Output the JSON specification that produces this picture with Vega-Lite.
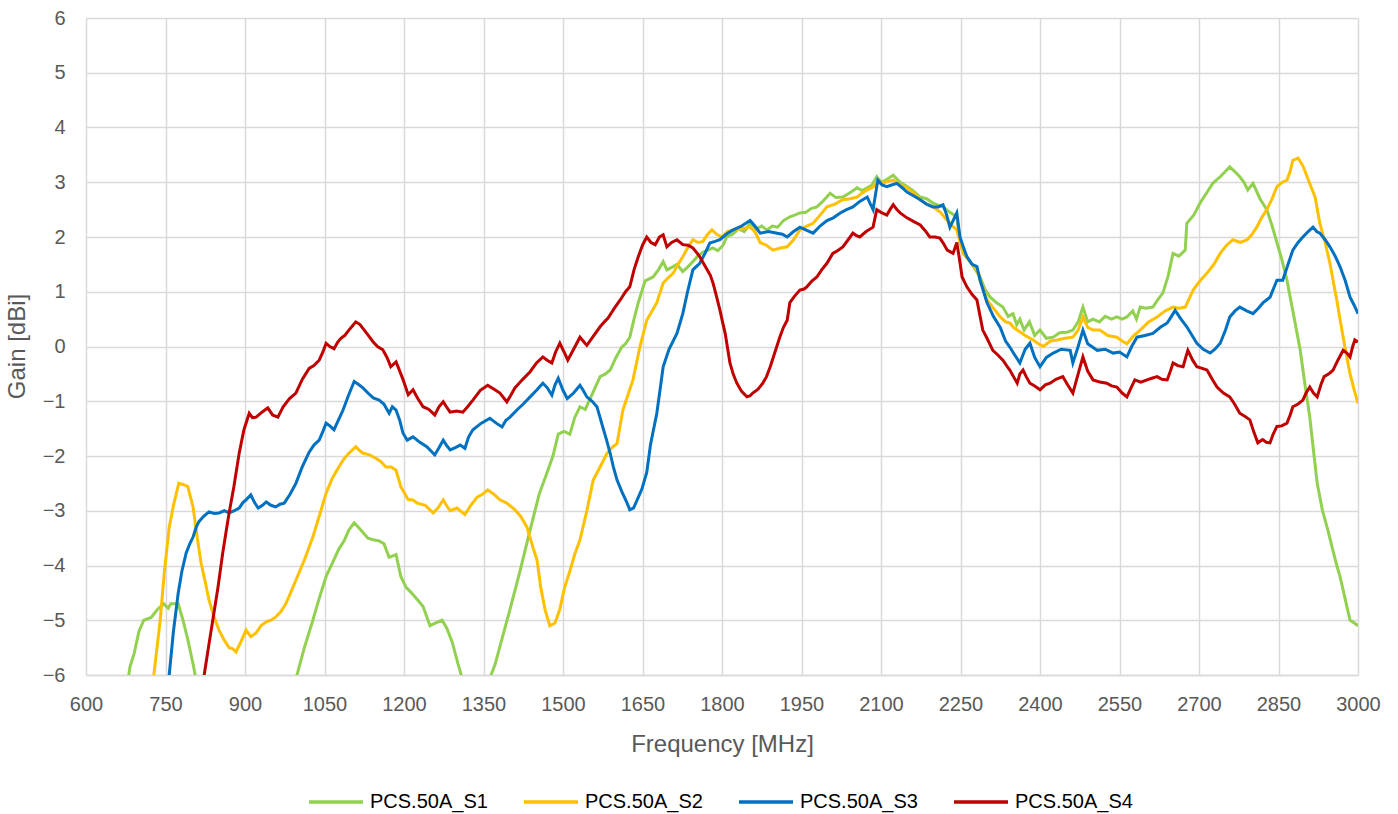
{
  "$schema": "https://vega.github.io/schema/vega-lite/v6.json",
  "width": 1272,
  "height": 657,
  "autosize": {"type": "none"},
  "padding": {"left": 86, "top": 18, "right": 40, "bottom": 139},
  "background": "white",
  "config": {
    "view": {"stroke": null},
    "font": "Liberation Sans, sans-serif",
    "axis": {
      "labelFont": "Liberation Sans, sans-serif",
      "titleFont": "Liberation Sans, sans-serif",
      "labelFontSize": 20,
      "labelColor": "#595959",
      "titleFontSize": 24,
      "titleColor": "#595959",
      "titleFontWeight": "normal",
      "gridColor": "#d9d9d9",
      "gridWidth": 1.5,
      "ticks": false,
      "tickSize": 0
    },
    "legend": {
      "labelFont": "Liberation Sans, sans-serif"
    }
  },
  "datasets": {
    "S1": [
      {"f":676,"g":-6.3},{"f":683,"g":-5.85},{"f":691,"g":-5.6},{"f":700,"g":-5.2},{"f":709,"g":-5.0},{"f":723,"g":-4.95},{"f":735,"g":-4.8},{"f":747,"g":-4.7},{"f":755,"g":-4.78},{"f":760,"g":-4.7},{"f":774,"g":-4.7},{"f":783,"g":-5.0},{"f":792,"g":-5.35},{"f":802,"g":-5.8},{"f":812,"g":-6.3},
      {"f":990,"g":-6.3},{"f":998,"g":-6.0},{"f":1012,"g":-5.5},{"f":1028,"g":-5.0},{"f":1040,"g":-4.6},{"f":1053,"g":-4.2},{"f":1065,"g":-3.95},{"f":1077,"g":-3.7},{"f":1087,"g":-3.55},{"f":1096,"g":-3.35},{"f":1106,"g":-3.22},{"f":1114,"g":-3.3},{"f":1123,"g":-3.4},{"f":1132,"g":-3.5},{"f":1142,"g":-3.53},{"f":1153,"g":-3.55},{"f":1162,"g":-3.6},{"f":1172,"g":-3.85},{"f":1185,"g":-3.8},{"f":1194,"g":-4.2},{"f":1204,"g":-4.4},{"f":1214,"g":-4.5},{"f":1223,"g":-4.6},{"f":1236,"g":-4.75},{"f":1249,"g":-5.1},{"f":1260,"g":-5.05},{"f":1272,"g":-5.0},{"f":1281,"g":-5.15},{"f":1291,"g":-5.4},{"f":1302,"g":-5.8},{"f":1317,"g":-6.3},
      {"f":1353,"g":-6.3},{"f":1372,"g":-5.8},{"f":1386,"g":-5.3},{"f":1400,"g":-4.8},{"f":1419,"g":-4.1},{"f":1438,"g":-3.35},{"f":1455,"g":-2.7},{"f":1470,"g":-2.3},{"f":1481,"g":-2.0},{"f":1491,"g":-1.6},{"f":1502,"g":-1.55},{"f":1513,"g":-1.6},{"f":1522,"g":-1.3},{"f":1532,"g":-1.1},{"f":1542,"g":-1.15},{"f":1556,"g":-0.85},{"f":1570,"g":-0.55},{"f":1580,"g":-0.5},{"f":1589,"g":-0.43},{"f":1600,"g":-0.2},{"f":1611,"g":-0.01},{"f":1618,"g":0.05},{"f":1626,"g":0.17},{"f":1634,"g":0.5},{"f":1642,"g":0.8},{"f":1655,"g":1.2},{"f":1670,"g":1.27},{"f":1680,"g":1.4},{"f":1689,"g":1.55},{"f":1696,"g":1.4},{"f":1706,"g":1.45},{"f":1715,"g":1.5},{"f":1726,"g":1.37},{"f":1735,"g":1.45},{"f":1745,"g":1.55},{"f":1754,"g":1.65},{"f":1764,"g":1.72},{"f":1773,"g":1.76},{"f":1783,"g":1.8},{"f":1792,"g":1.75},{"f":1802,"g":1.85},{"f":1809,"g":2.0},{"f":1820,"g":2.05},{"f":1831,"g":2.15},{"f":1842,"g":2.1},{"f":1853,"g":2.25},{"f":1865,"g":2.15},{"f":1875,"g":2.2},{"f":1885,"g":2.13},{"f":1895,"g":2.2},{"f":1905,"g":2.18},{"f":1916,"g":2.3},{"f":1928,"g":2.37},{"f":1937,"g":2.4},{"f":1947,"g":2.44},{"f":1958,"g":2.45},{"f":1968,"g":2.52},{"f":1979,"g":2.55},{"f":1990,"g":2.65},{"f":2004,"g":2.8},{"f":2015,"g":2.72},{"f":2028,"g":2.73},{"f":2040,"g":2.8},{"f":2055,"g":2.9},{"f":2064,"g":2.85},{"f":2074,"g":2.9},{"f":2083,"g":2.95},{"f":2092,"g":3.1},{"f":2100,"g":3.0},{"f":2111,"g":3.05},{"f":2123,"g":3.13},{"f":2136,"g":3.0},{"f":2149,"g":2.92},{"f":2160,"g":2.85},{"f":2174,"g":2.73},{"f":2186,"g":2.7},{"f":2198,"g":2.62},{"f":2208,"g":2.58},{"f":2217,"g":2.55},{"f":2230,"g":2.45},{"f":2243,"g":2.37},{"f":2249,"g":1.9},{"f":2262,"g":1.64},{"f":2275,"g":1.45},{"f":2287,"g":1.27},{"f":2296,"g":1.05},{"f":2306,"g":0.9},{"f":2318,"g":0.8},{"f":2330,"g":0.72},{"f":2340,"g":0.55},{"f":2349,"g":0.6},{"f":2356,"g":0.4},{"f":2362,"g":0.5},{"f":2370,"g":0.3},{"f":2380,"g":0.45},{"f":2390,"g":0.2},{"f":2400,"g":0.3},{"f":2412,"g":0.15},{"f":2425,"g":0.17},{"f":2437,"g":0.25},{"f":2451,"g":0.26},{"f":2462,"g":0.3},{"f":2472,"g":0.45},{"f":2481,"g":0.72},{"f":2490,"g":0.45},{"f":2500,"g":0.5},{"f":2512,"g":0.45},{"f":2523,"g":0.55},{"f":2535,"g":0.5},{"f":2545,"g":0.54},{"f":2555,"g":0.5},{"f":2564,"g":0.54},{"f":2575,"g":0.65},{"f":2582,"g":0.5},{"f":2589,"g":0.72},{"f":2600,"g":0.7},{"f":2613,"g":0.72},{"f":2622,"g":0.85},{"f":2632,"g":0.98},{"f":2642,"g":1.3},{"f":2651,"g":1.7},{"f":2662,"g":1.65},{"f":2674,"g":1.76},{"f":2677,"g":2.25},{"f":2690,"g":2.4},{"f":2702,"g":2.62},{"f":2714,"g":2.8},{"f":2726,"g":2.98},{"f":2740,"g":3.1},{"f":2750,"g":3.2},{"f":2758,"g":3.28},{"f":2767,"g":3.2},{"f":2777,"g":3.1},{"f":2785,"g":3.0},{"f":2792,"g":2.86},{"f":2802,"g":2.98},{"f":2815,"g":2.7},{"f":2828,"g":2.5},{"f":2838,"g":2.2},{"f":2847,"g":1.9},{"f":2856,"g":1.6},{"f":2866,"g":1.21},{"f":2878,"g":0.6},{"f":2891,"g":-0.07},{"f":2900,"g":-0.7},{"f":2909,"g":-1.29},{"f":2916,"g":-1.9},{"f":2923,"g":-2.5},{"f":2933,"g":-3.0},{"f":2943,"g":-3.35},{"f":2952,"g":-3.7},{"f":2960,"g":-4.0},{"f":2966,"g":-4.2},{"f":2972,"g":-4.45},{"f":2979,"g":-4.75},{"f":2985,"g":-5.0},{"f":2993,"g":-5.05},{"f":3000,"g":-5.1}
    ],
    "S2": [
      {"f":723,"g":-6.4},{"f":728,"g":-6.0},{"f":734,"g":-5.5},{"f":740,"g":-5.0},{"f":748,"g":-4.1},{"f":757,"g":-3.3},{"f":765,"g":-2.9},{"f":775,"g":-2.5},{"f":783,"g":-2.52},{"f":792,"g":-2.56},{"f":802,"g":-2.93},{"f":810,"g":-3.5},{"f":817,"g":-3.95},{"f":825,"g":-4.3},{"f":832,"g":-4.63},{"f":842,"g":-4.95},{"f":851,"g":-5.18},{"f":860,"g":-5.35},{"f":870,"g":-5.5},{"f":877,"g":-5.52},{"f":883,"g":-5.58},{"f":892,"g":-5.4},{"f":902,"g":-5.18},{"f":911,"g":-5.3},{"f":921,"g":-5.23},{"f":930,"g":-5.1},{"f":940,"g":-5.03},{"f":949,"g":-5.0},{"f":958,"g":-4.94},{"f":967,"g":-4.85},{"f":977,"g":-4.7},{"f":986,"g":-4.5},{"f":996,"g":-4.27},{"f":1012,"g":-3.9},{"f":1028,"g":-3.48},{"f":1040,"g":-3.1},{"f":1053,"g":-2.68},{"f":1065,"g":-2.4},{"f":1077,"g":-2.2},{"f":1087,"g":-2.05},{"f":1096,"g":-1.95},{"f":1109,"g":-1.83},{"f":1116,"g":-1.9},{"f":1123,"g":-1.95},{"f":1135,"g":-1.98},{"f":1147,"g":-2.04},{"f":1156,"g":-2.1},{"f":1166,"g":-2.2},{"f":1176,"g":-2.2},{"f":1185,"g":-2.26},{"f":1194,"g":-2.56},{"f":1208,"g":-2.8},{"f":1216,"g":-2.8},{"f":1225,"g":-2.86},{"f":1240,"g":-2.9},{"f":1255,"g":-3.04},{"f":1264,"g":-2.95},{"f":1274,"g":-2.8},{"f":1280,"g":-2.9},{"f":1287,"g":-3.0},{"f":1300,"g":-2.95},{"f":1315,"g":-3.07},{"f":1326,"g":-2.9},{"f":1338,"g":-2.75},{"f":1348,"g":-2.7},{"f":1358,"g":-2.62},{"f":1370,"g":-2.7},{"f":1381,"g":-2.8},{"f":1394,"g":-2.86},{"f":1409,"g":-2.98},{"f":1420,"g":-3.1},{"f":1432,"g":-3.3},{"f":1443,"g":-3.66},{"f":1451,"g":-3.9},{"f":1458,"g":-4.4},{"f":1466,"g":-4.8},{"f":1475,"g":-5.1},{"f":1485,"g":-5.05},{"f":1494,"g":-4.8},{"f":1503,"g":-4.4},{"f":1513,"g":-4.1},{"f":1522,"g":-3.8},{"f":1532,"g":-3.53},{"f":1545,"g":-3.0},{"f":1557,"g":-2.44},{"f":1570,"g":-2.2},{"f":1583,"g":-1.95},{"f":1592,"g":-1.85},{"f":1602,"g":-1.77},{"f":1613,"g":-1.16},{"f":1622,"g":-0.9},{"f":1632,"g":-0.61},{"f":1645,"g":-0.01},{"f":1658,"g":0.48},{"f":1668,"g":0.65},{"f":1677,"g":0.8},{"f":1689,"g":1.16},{"f":1698,"g":1.25},{"f":1708,"g":1.34},{"f":1717,"g":1.5},{"f":1726,"g":1.64},{"f":1735,"g":1.8},{"f":1745,"g":1.95},{"f":1755,"g":1.9},{"f":1764,"g":1.92},{"f":1773,"g":2.05},{"f":1781,"g":2.13},{"f":1790,"g":2.05},{"f":1800,"g":2.0},{"f":1810,"g":2.1},{"f":1821,"g":2.13},{"f":1837,"g":2.15},{"f":1853,"g":2.18},{"f":1862,"g":2.1},{"f":1872,"g":1.9},{"f":1884,"g":1.85},{"f":1896,"g":1.76},{"f":1910,"g":1.8},{"f":1923,"g":1.82},{"f":1935,"g":1.95},{"f":1947,"g":2.13},{"f":1960,"g":2.2},{"f":1972,"g":2.25},{"f":1985,"g":2.4},{"f":1998,"g":2.55},{"f":2013,"g":2.6},{"f":2028,"g":2.68},{"f":2042,"g":2.7},{"f":2055,"g":2.73},{"f":2064,"g":2.8},{"f":2074,"g":2.86},{"f":2083,"g":2.9},{"f":2092,"g":2.98},{"f":2108,"g":3.0},{"f":2123,"g":3.04},{"f":2136,"g":2.95},{"f":2149,"g":2.9},{"f":2162,"g":2.8},{"f":2174,"g":2.68},{"f":2186,"g":2.6},{"f":2198,"g":2.55},{"f":2212,"g":2.45},{"f":2225,"g":2.3},{"f":2235,"g":2.2},{"f":2243,"g":2.13},{"f":2255,"g":1.7},{"f":2268,"g":1.55},{"f":2281,"g":1.4},{"f":2291,"g":1.1},{"f":2300,"g":0.85},{"f":2312,"g":0.7},{"f":2325,"g":0.54},{"f":2335,"g":0.45},{"f":2343,"g":0.43},{"f":2350,"g":0.35},{"f":2357,"g":0.3},{"f":2372,"g":0.2},{"f":2387,"g":0.12},{"f":2397,"g":0.05},{"f":2406,"g":0.0},{"f":2420,"g":0.1},{"f":2432,"g":0.12},{"f":2447,"g":0.15},{"f":2462,"g":0.17},{"f":2472,"g":0.3},{"f":2481,"g":0.54},{"f":2490,"g":0.35},{"f":2500,"g":0.3},{"f":2513,"g":0.3},{"f":2528,"g":0.2},{"f":2545,"g":0.17},{"f":2555,"g":0.1},{"f":2564,"g":0.05},{"f":2577,"g":0.2},{"f":2589,"g":0.3},{"f":2605,"g":0.45},{"f":2621,"g":0.54},{"f":2636,"g":0.65},{"f":2651,"g":0.72},{"f":2662,"g":0.7},{"f":2674,"g":0.72},{"f":2689,"g":1.03},{"f":2702,"g":1.2},{"f":2715,"g":1.34},{"f":2728,"g":1.5},{"f":2740,"g":1.7},{"f":2752,"g":1.85},{"f":2764,"g":1.95},{"f":2778,"g":1.9},{"f":2791,"g":1.95},{"f":2800,"g":2.05},{"f":2809,"g":2.18},{"f":2818,"g":2.35},{"f":2828,"g":2.5},{"f":2838,"g":2.7},{"f":2847,"g":2.92},{"f":2857,"g":3.0},{"f":2866,"g":3.04},{"f":2872,"g":3.2},{"f":2877,"g":3.4},{"f":2887,"g":3.44},{"f":2896,"g":3.3},{"f":2904,"g":3.1},{"f":2912,"g":2.9},{"f":2919,"g":2.73},{"f":2928,"g":2.25},{"f":2938,"g":1.9},{"f":2947,"g":1.52},{"f":2955,"g":1.1},{"f":2960,"g":0.85},{"f":2966,"g":0.5},{"f":2972,"g":0.17},{"f":2978,"g":-0.15},{"f":2985,"g":-0.5},{"f":2993,"g":-0.8},{"f":3000,"g":-1.04}
    ],
    "S3": [
      {"f":753,"g":-6.4},{"f":757,"g":-6.0},{"f":765,"g":-5.2},{"f":774,"g":-4.5},{"f":781,"g":-4.1},{"f":789,"g":-3.77},{"f":796,"g":-3.6},{"f":802,"g":-3.48},{"f":808,"g":-3.3},{"f":813,"g":-3.2},{"f":822,"g":-3.1},{"f":832,"g":-3.02},{"f":842,"g":-3.05},{"f":851,"g":-3.04},{"f":861,"g":-3.0},{"f":870,"g":-3.04},{"f":880,"g":-3.0},{"f":889,"g":-2.95},{"f":896,"g":-2.85},{"f":902,"g":-2.8},{"f":911,"g":-2.71},{"f":918,"g":-2.85},{"f":925,"g":-2.95},{"f":933,"g":-2.9},{"f":940,"g":-2.84},{"f":949,"g":-2.9},{"f":958,"g":-2.93},{"f":966,"g":-2.88},{"f":974,"g":-2.86},{"f":985,"g":-2.7},{"f":996,"g":-2.5},{"f":1008,"g":-2.2},{"f":1021,"g":-1.93},{"f":1030,"g":-1.8},{"f":1040,"g":-1.71},{"f":1047,"g":-1.55},{"f":1053,"g":-1.4},{"f":1060,"g":-1.45},{"f":1068,"g":-1.52},{"f":1076,"g":-1.35},{"f":1085,"g":-1.16},{"f":1095,"g":-0.9},{"f":1106,"g":-0.64},{"f":1115,"g":-0.7},{"f":1123,"g":-0.76},{"f":1132,"g":-0.85},{"f":1142,"g":-0.94},{"f":1153,"g":-0.98},{"f":1162,"g":-1.05},{"f":1172,"g":-1.22},{"f":1178,"g":-1.1},{"f":1185,"g":-1.16},{"f":1192,"g":-1.35},{"f":1198,"g":-1.58},{"f":1206,"g":-1.71},{"f":1217,"g":-1.65},{"f":1230,"g":-1.75},{"f":1243,"g":-1.83},{"f":1250,"g":-1.9},{"f":1258,"g":-1.98},{"f":1266,"g":-1.85},{"f":1274,"g":-1.71},{"f":1280,"g":-1.8},{"f":1287,"g":-1.89},{"f":1296,"g":-1.85},{"f":1306,"g":-1.8},{"f":1315,"g":-1.86},{"f":1322,"g":-1.65},{"f":1330,"g":-1.52},{"f":1346,"g":-1.4},{"f":1362,"g":-1.31},{"f":1374,"g":-1.4},{"f":1385,"g":-1.47},{"f":1392,"g":-1.35},{"f":1400,"g":-1.29},{"f":1413,"g":-1.16},{"f":1425,"g":-1.05},{"f":1438,"g":-0.92},{"f":1450,"g":-0.8},{"f":1462,"g":-0.67},{"f":1470,"g":-0.75},{"f":1479,"g":-0.89},{"f":1485,"g":-0.7},{"f":1491,"g":-0.58},{"f":1500,"g":-0.8},{"f":1508,"g":-0.95},{"f":1520,"g":-0.85},{"f":1532,"g":-0.71},{"f":1538,"g":-0.8},{"f":1545,"g":-0.92},{"f":1555,"g":-1.0},{"f":1564,"g":-1.1},{"f":1570,"g":-1.3},{"f":1575,"g":-1.47},{"f":1582,"g":-1.7},{"f":1589,"g":-1.95},{"f":1595,"g":-2.2},{"f":1602,"g":-2.44},{"f":1611,"g":-2.65},{"f":1621,"g":-2.86},{"f":1626,"g":-2.98},{"f":1633,"g":-2.95},{"f":1640,"g":-2.8},{"f":1649,"g":-2.6},{"f":1658,"g":-2.3},{"f":1665,"g":-1.8},{"f":1677,"g":-1.22},{"f":1683,"g":-0.8},{"f":1689,"g":-0.37},{"f":1700,"g":-0.05},{"f":1715,"g":0.24},{"f":1726,"g":0.6},{"f":1735,"g":1.0},{"f":1745,"g":1.4},{"f":1758,"g":1.52},{"f":1768,"g":1.7},{"f":1777,"g":1.89},{"f":1787,"g":1.92},{"f":1796,"g":1.95},{"f":1808,"g":2.05},{"f":1821,"g":2.13},{"f":1837,"g":2.2},{"f":1853,"g":2.3},{"f":1862,"g":2.2},{"f":1872,"g":2.07},{"f":1888,"g":2.1},{"f":1904,"g":2.07},{"f":1914,"g":2.05},{"f":1923,"g":2.0},{"f":1935,"g":2.1},{"f":1947,"g":2.18},{"f":1960,"g":2.12},{"f":1972,"g":2.07},{"f":1985,"g":2.2},{"f":1998,"g":2.3},{"f":2010,"g":2.35},{"f":2023,"g":2.44},{"f":2035,"g":2.5},{"f":2047,"g":2.55},{"f":2060,"g":2.65},{"f":2074,"g":2.73},{"f":2080,"g":2.6},{"f":2085,"g":2.5},{"f":2094,"g":3.04},{"f":2102,"g":2.95},{"f":2111,"g":2.92},{"f":2120,"g":2.95},{"f":2130,"g":2.98},{"f":2140,"g":2.9},{"f":2149,"g":2.82},{"f":2162,"g":2.75},{"f":2174,"g":2.68},{"f":2186,"g":2.6},{"f":2198,"g":2.55},{"f":2208,"g":2.55},{"f":2217,"g":2.59},{"f":2224,"g":2.4},{"f":2230,"g":2.18},{"f":2236,"g":2.3},{"f":2243,"g":2.44},{"f":2249,"g":2.0},{"f":2256,"g":1.8},{"f":2262,"g":1.64},{"f":2272,"g":1.5},{"f":2281,"g":1.46},{"f":2287,"g":1.21},{"f":2300,"g":0.8},{"f":2312,"g":0.55},{"f":2325,"g":0.35},{"f":2335,"g":0.1},{"f":2343,"g":-0.01},{"f":2352,"g":-0.15},{"f":2362,"g":-0.3},{"f":2372,"g":-0.05},{"f":2381,"g":0.06},{"f":2390,"g":-0.2},{"f":2400,"g":-0.37},{"f":2412,"g":-0.2},{"f":2425,"g":-0.12},{"f":2440,"g":-0.05},{"f":2457,"g":-0.07},{"f":2462,"g":-0.3},{"f":2472,"g":0.0},{"f":2481,"g":0.3},{"f":2490,"g":0.05},{"f":2508,"g":-0.07},{"f":2523,"g":-0.05},{"f":2538,"g":-0.12},{"f":2550,"g":-0.1},{"f":2564,"g":-0.19},{"f":2573,"g":0.0},{"f":2583,"g":0.17},{"f":2598,"g":0.2},{"f":2613,"g":0.24},{"f":2627,"g":0.35},{"f":2640,"g":0.43},{"f":2648,"g":0.55},{"f":2655,"g":0.66},{"f":2666,"g":0.5},{"f":2677,"g":0.36},{"f":2687,"g":0.2},{"f":2696,"g":0.06},{"f":2708,"g":-0.05},{"f":2721,"g":-0.12},{"f":2730,"g":-0.05},{"f":2740,"g":0.06},{"f":2750,"g":0.3},{"f":2758,"g":0.54},{"f":2768,"g":0.65},{"f":2777,"g":0.72},{"f":2790,"g":0.65},{"f":2802,"g":0.6},{"f":2812,"g":0.7},{"f":2821,"g":0.8},{"f":2834,"g":0.9},{"f":2847,"g":1.21},{"f":2858,"g":1.21},{"f":2868,"g":1.5},{"f":2877,"g":1.76},{"f":2887,"g":1.9},{"f":2896,"g":2.0},{"f":2906,"g":2.1},{"f":2915,"g":2.18},{"f":2922,"g":2.1},{"f":2928,"g":2.07},{"f":2938,"g":1.95},{"f":2947,"g":1.82},{"f":2957,"g":1.65},{"f":2966,"g":1.46},{"f":2976,"g":1.2},{"f":2985,"g":0.9},{"f":2993,"g":0.75},{"f":3000,"g":0.6}
    ],
    "S4": [
      {"f":819,"g":-6.4},{"f":823,"g":-6.0},{"f":831,"g":-5.5},{"f":840,"g":-4.95},{"f":849,"g":-4.4},{"f":858,"g":-3.77},{"f":864,"g":-3.4},{"f":870,"g":-3.04},{"f":879,"g":-2.56},{"f":889,"g":-1.95},{"f":898,"g":-1.52},{"f":908,"g":-1.22},{"f":914,"g":-1.3},{"f":921,"g":-1.29},{"f":932,"g":-1.2},{"f":943,"g":-1.12},{"f":952,"g":-1.25},{"f":962,"g":-1.29},{"f":972,"g":-1.1},{"f":984,"g":-0.95},{"f":996,"g":-0.85},{"f":1008,"g":-0.6},{"f":1021,"g":-0.4},{"f":1030,"g":-0.35},{"f":1040,"g":-0.25},{"f":1047,"g":-0.1},{"f":1053,"g":0.06},{"f":1060,"g":0.0},{"f":1068,"g":-0.04},{"f":1075,"g":0.08},{"f":1081,"g":0.15},{"f":1088,"g":0.2},{"f":1096,"g":0.3},{"f":1103,"g":0.38},{"f":1109,"g":0.45},{"f":1117,"g":0.4},{"f":1125,"g":0.3},{"f":1133,"g":0.2},{"f":1142,"g":0.08},{"f":1150,"g":0.0},{"f":1160,"g":-0.06},{"f":1168,"g":-0.2},{"f":1175,"g":-0.37},{"f":1185,"g":-0.28},{"f":1192,"g":-0.45},{"f":1198,"g":-0.6},{"f":1208,"g":-0.88},{"f":1217,"g":-0.79},{"f":1226,"g":-0.95},{"f":1236,"g":-1.1},{"f":1247,"g":-1.15},{"f":1258,"g":-1.25},{"f":1266,"g":-1.1},{"f":1274,"g":-1.01},{"f":1280,"g":-1.1},{"f":1287,"g":-1.2},{"f":1299,"g":-1.18},{"f":1311,"g":-1.2},{"f":1320,"g":-1.1},{"f":1330,"g":-0.98},{"f":1344,"g":-0.8},{"f":1358,"g":-0.71},{"f":1370,"g":-0.78},{"f":1381,"g":-0.85},{"f":1394,"g":-1.01},{"f":1401,"g":-0.9},{"f":1409,"g":-0.76},{"f":1424,"g":-0.6},{"f":1438,"g":-0.46},{"f":1450,"g":-0.3},{"f":1462,"g":-0.19},{"f":1470,"g":-0.25},{"f":1479,"g":-0.3},{"f":1486,"g":-0.1},{"f":1494,"g":0.06},{"f":1502,"g":-0.1},{"f":1509,"g":-0.25},{"f":1520,"g":-0.05},{"f":1532,"g":0.17},{"f":1538,"g":0.1},{"f":1545,"g":0.02},{"f":1558,"g":0.2},{"f":1570,"g":0.36},{"f":1578,"g":0.45},{"f":1585,"g":0.52},{"f":1597,"g":0.7},{"f":1608,"g":0.85},{"f":1618,"g":1.0},{"f":1626,"g":1.09},{"f":1634,"g":1.4},{"f":1642,"g":1.64},{"f":1650,"g":1.85},{"f":1658,"g":2.0},{"f":1666,"g":1.9},{"f":1674,"g":1.86},{"f":1682,"g":2.0},{"f":1689,"g":2.04},{"f":1696,"g":1.82},{"f":1705,"g":1.9},{"f":1715,"g":1.95},{"f":1726,"g":1.86},{"f":1736,"g":1.85},{"f":1745,"g":1.8},{"f":1752,"g":1.72},{"f":1758,"g":1.64},{"f":1765,"g":1.52},{"f":1772,"g":1.4},{"f":1778,"g":1.3},{"f":1783,"g":1.16},{"f":1790,"g":0.9},{"f":1796,"g":0.67},{"f":1801,"g":0.45},{"f":1806,"g":0.24},{"f":1810,"g":0.0},{"f":1815,"g":-0.3},{"f":1821,"g":-0.5},{"f":1828,"g":-0.67},{"f":1837,"g":-0.82},{"f":1847,"g":-0.92},{"f":1853,"g":-0.9},{"f":1858,"g":-0.85},{"f":1868,"g":-0.78},{"f":1877,"g":-0.67},{"f":1884,"g":-0.55},{"f":1891,"g":-0.37},{"f":1900,"g":-0.1},{"f":1909,"g":0.17},{"f":1916,"g":0.35},{"f":1923,"g":0.48},{"f":1928,"g":0.8},{"f":1937,"g":0.92},{"f":1947,"g":1.03},{"f":1955,"g":1.05},{"f":1960,"g":1.09},{"f":1970,"g":1.2},{"f":1979,"g":1.27},{"f":1988,"g":1.4},{"f":1998,"g":1.52},{"f":2009,"g":1.7},{"f":2018,"g":1.75},{"f":2028,"g":1.82},{"f":2038,"g":1.95},{"f":2047,"g":2.07},{"f":2053,"g":2.03},{"f":2060,"g":2.0},{"f":2072,"g":2.1},{"f":2085,"g":2.18},{"f":2092,"g":2.5},{"f":2100,"g":2.45},{"f":2111,"g":2.4},{"f":2117,"g":2.5},{"f":2123,"g":2.59},{"f":2130,"g":2.5},{"f":2136,"g":2.44},{"f":2142,"g":2.4},{"f":2149,"g":2.35},{"f":2162,"g":2.28},{"f":2174,"g":2.22},{"f":2183,"g":2.12},{"f":2192,"g":2.0},{"f":2202,"g":2.0},{"f":2211,"g":1.98},{"f":2218,"g":1.88},{"f":2225,"g":1.76},{"f":2236,"g":1.7},{"f":2243,"g":1.9},{"f":2248,"g":1.6},{"f":2253,"g":1.27},{"f":2262,"g":1.09},{"f":2272,"g":0.95},{"f":2281,"g":0.85},{"f":2287,"g":0.55},{"f":2292,"g":0.3},{"f":2300,"g":0.15},{"f":2311,"g":-0.07},{"f":2320,"g":-0.15},{"f":2330,"g":-0.25},{"f":2337,"g":-0.35},{"f":2343,"g":-0.43},{"f":2350,"g":-0.55},{"f":2357,"g":-0.67},{"f":2362,"g":-0.5},{"f":2368,"g":-0.43},{"f":2374,"g":-0.55},{"f":2381,"g":-0.67},{"f":2390,"g":-0.72},{"f":2400,"g":-0.79},{"f":2410,"g":-0.7},{"f":2419,"g":-0.67},{"f":2430,"g":-0.6},{"f":2443,"g":-0.55},{"f":2452,"g":-0.7},{"f":2462,"g":-0.85},{"f":2472,"g":-0.5},{"f":2481,"g":-0.19},{"f":2490,"g":-0.45},{"f":2500,"g":-0.61},{"f":2513,"g":-0.65},{"f":2526,"g":-0.67},{"f":2535,"g":-0.72},{"f":2545,"g":-0.74},{"f":2555,"g":-0.85},{"f":2564,"g":-0.92},{"f":2572,"g":-0.75},{"f":2579,"g":-0.61},{"f":2590,"g":-0.65},{"f":2602,"g":-0.61},{"f":2611,"g":-0.58},{"f":2621,"g":-0.55},{"f":2630,"g":-0.6},{"f":2640,"g":-0.61},{"f":2646,"g":-0.45},{"f":2651,"g":-0.3},{"f":2660,"g":-0.35},{"f":2670,"g":-0.37},{"f":2675,"g":-0.2},{"f":2679,"g":-0.07},{"f":2688,"g":-0.25},{"f":2696,"g":-0.37},{"f":2706,"g":-0.4},{"f":2715,"g":-0.43},{"f":2725,"g":-0.6},{"f":2734,"g":-0.74},{"f":2746,"g":-0.85},{"f":2758,"g":-0.92},{"f":2767,"g":-1.05},{"f":2777,"g":-1.22},{"f":2787,"g":-1.28},{"f":2796,"g":-1.34},{"f":2803,"g":-1.55},{"f":2811,"g":-1.76},{"f":2820,"g":-1.7},{"f":2827,"g":-1.75},{"f":2834,"g":-1.76},{"f":2840,"g":-1.6},{"f":2847,"g":-1.46},{"f":2856,"g":-1.45},{"f":2866,"g":-1.4},{"f":2872,"g":-1.25},{"f":2877,"g":-1.1},{"f":2887,"g":-1.05},{"f":2896,"g":-0.98},{"f":2902,"g":-0.85},{"f":2909,"g":-0.74},{"f":2916,"g":-0.85},{"f":2923,"g":-0.92},{"f":2930,"g":-0.7},{"f":2936,"g":-0.55},{"f":2945,"g":-0.5},{"f":2953,"g":-0.43},{"f":2962,"g":-0.25},{"f":2972,"g":-0.07},{"f":2979,"g":-0.12},{"f":2985,"g":-0.19},{"f":2990,"g":0.0},{"f":2994,"g":0.12},{"f":3000,"g":0.08}
    ]
  },
  "encoding": {
    "x": {
      "field": "f", "type": "quantitative",
      "scale": {"domain": [600, 3000], "nice": false, "zero": false},
      "axis": {
        "title": "Frequency [MHz]",
        "values": [600, 750, 900, 1050, 1200, 1350, 1500, 1650, 1800, 1950, 2100, 2250, 2400, 2550, 2700, 2850, 3000],
        "format": "d",
        "labelPadding": 19,
        "domainColor": "#d9d9d9",
        "domainWidth": 1.5,
        "titleY": 57,
        "labelFlush": false
      }
    },
    "y": {
      "field": "g", "type": "quantitative",
      "scale": {"domain": [-6, 6], "nice": false, "zero": false},
      "axis": {
        "title": "Gain [dBi]",
        "values": [-6, -5, -4, -3, -2, -1, 0, 1, 2, 3, 4, 5, 6],
        "format": "d",
        "labelPadding": 21,
        "domain": false,
        "titleX": -57,
        "titleY": 328
      }
    },
    "color": {
      "type": "nominal",
      "scale": {
        "domain": ["PCS.50A_S1", "PCS.50A_S2", "PCS.50A_S3", "PCS.50A_S4"],
        "range": ["#92d050", "#ffc000", "#0070c0", "#c00000"]
      },
      "legend": {
        "title": null,
        "orient": "none",
        "legendX": 221,
        "legendY": 755,
        "direction": "horizontal",
        "symbolType": "stroke",
        "symbolSize": 2916,
        "symbolStrokeWidth": 3.5,
        "labelFontSize": 20,
        "labelColor": "#000000",
        "labelOffset": 5,
        "columnPadding": 29,
        "labelLimit": 300
      }
    }
  },
  "layer": [
    {"data": {"name": "S1"}, "mark": {"type": "line", "strokeWidth": 3, "clip": true}, "encoding": {"color": {"datum": "PCS.50A_S1"}}},
    {"data": {"name": "S2"}, "mark": {"type": "line", "strokeWidth": 3, "clip": true}, "encoding": {"color": {"datum": "PCS.50A_S2"}}},
    {"data": {"name": "S3"}, "mark": {"type": "line", "strokeWidth": 3, "clip": true}, "encoding": {"color": {"datum": "PCS.50A_S3"}}},
    {"data": {"name": "S4"}, "mark": {"type": "line", "strokeWidth": 3, "clip": true}, "encoding": {"color": {"datum": "PCS.50A_S4"}}}
  ]
}
